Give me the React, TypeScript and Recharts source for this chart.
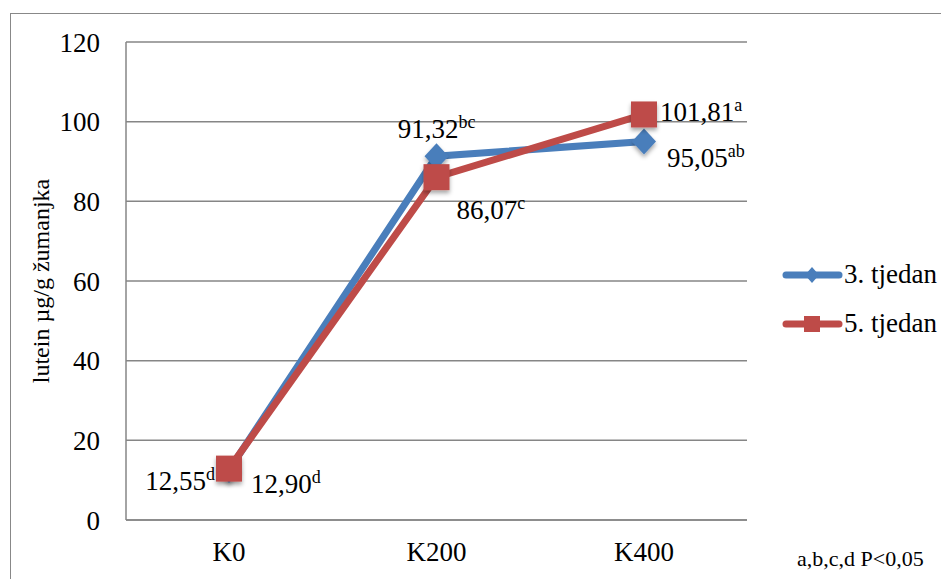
import React from "react";
import { LineChart, Line, CartesianGrid, XAxis, YAxis, LabelList } from "recharts";

const categories = ["K0", "K200", "K400"];
const week3 = [12.55, 91.32, 95.05];
const week5 = [12.9, 86.07, 101.81];
const week3Sig = ["d", "bc", "ab"];
const week5Sig = ["d", "c", "a"];
const yTicks = [0, 20, 40, 60, 80, 100, 120];
const seriesNames = ["3. tjedan", "5. tjedan"];

const data = categories.map((name, i) => ({ name, w3: week3[i], w5: week5[i] }));

const FONT = "'Liberation Serif', Tinos, 'Times New Roman', serif";
const BLUE = "#4A7EBB";
const RED = "#BE4B48";
const GRID = "#868686";

// where each value label sits relative to its point
const week3Place = [
  { dx: -14, dy: 20, anchor: "end" },
  { dx: 0, dy: -18, anchor: "middle" },
  { dx: 23, dy: 26, anchor: "start" },
];
const week5Place = [
  { dx: 22, dy: 24, anchor: "start" },
  { dx: 20, dy: 42, anchor: "start" },
  { dx: 16, dy: 7, anchor: "start" },
];

const fmt = (v: number) => v.toFixed(2).replace(".", ",");

const makeLabel = (sig: string[], place: any[]) => (props: any) => {
  const { x, y, value, index } = props;
  const p = place[index];
  return (
    <text x={x + p.dx} y={y + p.dy} textAnchor={p.anchor} fontFamily={FONT} fontSize={27} fill="#000">
      {fmt(value)}
      <tspan fontSize={18} dy={-10}>{sig[index]}</tspan>
    </text>
  );
};

const Diamond = (props: any) => {
  const { cx, cy, index } = props;
  const r = 13;
  return (
    <path
      key={"d" + index}
      d={`M${cx},${cy - r} L${cx + r - 1},${cy} L${cx},${cy + r} L${cx - r + 1},${cy} Z`}
      fill={BLUE}
      filter="url(#shadow)"
    />
  );
};

const Square = (props: any) => {
  const { cx, cy, index } = props;
  const s = 26;
  return (
    <rect key={"s" + index} x={cx - s / 2} y={cy - s / 2} width={s} height={s} fill={RED} filter="url(#shadow)" />
  );
};

const YLabel = (props: any) => {
  const vb = props.viewBox;
  const cx = vb.x + 41;
  const cy = vb.y + vb.height / 2;
  return (
    <text
      x={cx}
      y={cy}
      transform={`rotate(-90, ${cx}, ${cy})`}
      textAnchor="middle"
      dominantBaseline="central"
      fontFamily={FONT}
      fontSize={24}
      fill="#000"
    >
      lutein µg/g žumanjka
    </text>
  );
};

const tickStyle = { fontFamily: FONT, fontSize: 27, fill: "#000" };

export default function App() {
  return (
    <div style={{ position: "absolute", left: 0, top: 0, width: 941, height: 579, overflow: "hidden", background: "#fff", fontFamily: FONT }}>
      <svg width={0} height={0} style={{ position: "absolute" }}>
        <defs>
          <filter id="shadow" x="-50%" y="-50%" width="200%" height="200%">
            <feDropShadow dx={0} dy={3} stdDeviation={2} floodColor="#000" floodOpacity={0.35} />
          </filter>
        </defs>
      </svg>
      <div
        style={{
          position: "absolute",
          left: 10,
          top: 13,
          width: 960,
          height: 600,
          border: "1.5px solid #888",
          boxSizing: "border-box",
        }}
      />
      <div style={{ position: "absolute", left: 0, top: 0 }}>
        <LineChart width={941} height={579} data={data} margin={{ top: 42, right: 194, bottom: 0, left: 0 }}>
          <CartesianGrid vertical={false} stroke={GRID} strokeWidth={1.5} />
          <XAxis
            dataKey="name"
            height={59}
            padding={{ left: 103, right: 103 }}
            axisLine={{ stroke: GRID, strokeWidth: 1.5 }}
            tickLine={false}
            tickMargin={16}
            tick={tickStyle}
          />
          <YAxis
            width={126}
            domain={[0, 120]}
            ticks={yTicks}
            interval={0}
            axisLine={{ stroke: GRID, strokeWidth: 1.5 }}
            tickLine={false}
            tickMargin={20}
            tick={tickStyle}
            label={<YLabel />}
          />
          <Line
            dataKey="w3"
            name={seriesNames[0]}
            stroke={BLUE}
            strokeWidth={7}
            dot={<Diamond />}
            activeDot={false}
            isAnimationActive={false}
          >
            <LabelList dataKey="w3" content={makeLabel(week3Sig, week3Place)} />
          </Line>
          <Line
            dataKey="w5"
            name={seriesNames[1]}
            stroke={RED}
            strokeWidth={7}
            dot={<Square />}
            activeDot={false}
            isAnimationActive={false}
          >
            <LabelList dataKey="w5" content={makeLabel(week5Sig, week5Place)} />
          </Line>
        </LineChart>
      </div>
      <div style={{ position: "absolute", left: 782, top: 250, fontSize: 27, color: "#000" }}>
        {seriesNames.map((n, i) => (
          <div key={n} style={{ display: "flex", alignItems: "center", height: 49, whiteSpace: "nowrap" }}>
            <svg width={61} height={24} style={{ marginRight: 1 }}>
              <line x1={4} y1={12} x2={57} y2={12} stroke={i === 0 ? BLUE : RED} strokeWidth={7} strokeLinecap="round" />
              {i === 0 ? (
                <path d="M30,4 L37,12 L30,20 L23,12 Z" fill={BLUE} />
              ) : (
                <rect x={22} y={4} width={16} height={16} fill={RED} />
              )}
            </svg>
            <span>{n}</span>
          </div>
        ))}
      </div>
      <div style={{ position: "absolute", left: 797, top: 546, fontSize: 22, whiteSpace: "nowrap" }}>
        a,b,c,d P&lt;0,05
      </div>
    </div>
  );
}
